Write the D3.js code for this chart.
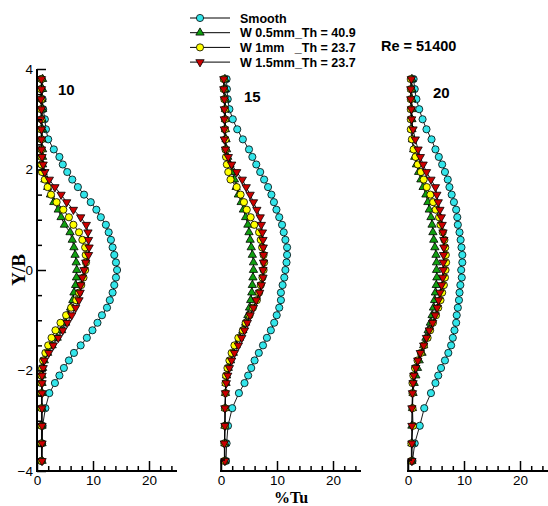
<!DOCTYPE html>
<html>
<head>
<meta charset="utf-8">
<script src="https://cdn.jsdelivr.net/npm/d3@7"></script>
<style>
  body { margin: 0; background: #fff; }
  svg { display: block; }
  .tick text { font-family: Arial, "Liberation Sans", sans-serif; font-size: 13.5px; fill: #000; }
</style>
</head>
<body>
<svg width="548" height="506"></svg>
<script>
// Y/B measuring positions, shared by every profile
var yPos = [3.8, 3.6, 3.4, 3.2, 3.0, 2.8, 2.6, 2.4,
  2.25, 2.1, 1.95, 1.8, 1.65, 1.5, 1.35, 1.2, 1.05, 0.9, 0.75, 0.6, 0.45, 0.3, 0.15, 0,
  -0.15, -0.3, -0.45, -0.6, -0.75, -0.9, -1.05, -1.2, -1.35, -1.5, -1.65, -1.8, -1.95, -2.1, -2.25,
  -2.45, -2.75, -3.1, -3.45, -3.8];

var stations = ['10', '15', '20'];
var seriesNames = ['Smooth', 'W 0.5mm_Th = 40.9', 'W 1mm   _Th = 23.7', 'W 1.5mm_Th = 23.7'];

// %Tu, station 10
var smooth10 = [0.8,0.8,1.0,1.1,1.4,1.6,2.0,3.0, 4.0,4.6,5.4,6.3,7.3,8.4,9.6,10.6,11.4,12.3,12.8,13.2,13.5,13.8,14.1,14.3,14.1,13.8,13.5,13.0,12.5,11.6,10.8,9.9,8.9,7.8,6.6,5.7,4.8,4.0,3.2, 2.2,1.5,1.0,0.9,0.8];
var w05_10 = [1.0,1.0,0.9,1.0,0.9,1.0,0.9,1.0, 1.0,1.0,1.1,1.4,1.9,2.4,3.0,3.8,4.3,4.9,5.9,6.3,6.6,6.8,7.0,7.1,7.05,6.9,6.6,6.4,6.0,5.5,5.1,4.4,3.6,2.7,1.9,1.3,1.0,0.9,0.9, 0.9,0.9,0.9,0.9,0.9];
var w1_10 = [0.8,0.7,0.8,0.7,0.8,0.7,0.8,0.8, 0.8,0.8,0.9,1.4,1.9,2.5,3.5,4.7,5.7,6.5,7.5,8.1,8.6,8.7,8.75,8.6,8.3,7.9,7.5,7.0,6.1,5.2,4.2,3.3,2.6,2.0,1.5,1.1,0.9,0.8,0.8, 0.8,0.8,0.8,0.8,0.8];
var w15_10 = [0.8,0.8,0.7,0.8,0.7,0.8,0.8,0.8, 0.9,1.1,1.4,2.2,3.2,4.3,5.3,6.5,7.8,8.8,9.1,9.2,9.3,9.2,8.7,8.4,8.1,7.8,7.7,7.5,6.9,6.2,5.4,4.6,3.8,2.9,2.1,1.3,1.1,0.9,0.9, 0.9,0.9,0.9,0.9,0.9];

// %Tu, station 15
var smooth15 = [1.0,1.05,1.2,1.5,2.1,2.9,3.9,5.0, 5.6,6.3,7.0,7.7,8.4,9.0,9.45,9.9,10.4,10.9,11.2,11.5,11.8,11.8,11.7,11.5,11.3,11.0,10.7,10.7,10.4,9.95,9.5,8.9,8.2,7.5,6.75,6.0,5.4,4.85,4.2, 3.2,2.0,1.25,1.0,0.9];
var w05_15 = [0.7,0.7,0.8,0.8,0.8,0.8,0.9,1.0, 1.2,1.6,2.0,2.4,2.7,3.1,3.6,4.0,4.4,4.8,5.0,5.2,5.4,5.6,5.8,5.8,5.7,5.6,5.5,5.3,5.1,4.8,4.4,3.9,3.3,2.7,2.2,1.7,1.3,1.0,0.9, 0.8,0.8,0.7,0.7,0.7];
var w1_15 = [0.5,0.5,0.6,0.7,0.7,0.7,0.8,0.8, 0.9,1.05,1.3,1.7,2.8,3.5,4.1,4.6,5.3,5.95,6.8,7.1,7.35,7.6,7.7,7.6,7.4,7.1,6.8,6.4,5.7,5.1,4.4,3.9,3.1,2.4,1.9,1.5,1.15,0.9,0.8, 0.8,0.7,0.7,0.6,0.6];
var w15_15 = [0.5,0.5,0.6,0.6,0.6,0.6,0.6,0.8, 1.3,1.9,2.8,3.8,4.5,5.2,5.8,6.4,7.0,7.2,7.4,7.5,7.55,7.6,7.6,7.5,7.5,7.2,6.9,6.3,5.8,5.2,4.7,4.2,3.7,3.1,2.4,1.9,1.5,1.2,0.95, 0.8,0.7,0.7,0.6,0.7];

// %Tu, station 20
var smooth20 = [1.0,1.2,1.5,2.0,2.6,3.3,4.2,4.9, 5.5,6.1,6.6,7.1,7.4,7.8,8.2,8.6,8.8,8.9,9.2,9.4,9.55,9.7,9.7,9.5,9.6,9.35,9.2,9.1,8.9,8.7,8.6,8.3,8.0,7.7,7.2,6.6,5.9,5.4,4.9, 4.1,2.9,2.1,1.2,0.8];
var w05_20 = [0.7,0.7,0.7,0.7,0.7,0.7,0.8,1.0, 1.2,1.5,1.9,2.3,2.7,3.2,3.55,3.8,4.1,4.3,4.45,4.6,4.8,5.0,5.1,5.1,5.15,5.05,4.9,4.75,4.55,4.3,4.0,3.6,3.2,2.8,2.5,2.0,1.7,1.4,1.1, 0.9,0.8,0.7,0.7,0.7];
var w1_20 = [0.5,0.5,0.5,0.5,0.5,0.5,0.7,1.0, 1.35,1.75,2.3,2.8,3.35,4.0,4.5,4.95,5.55,5.8,6.2,6.5,6.65,6.75,6.8,6.7,6.6,6.4,6.1,5.8,5.4,5.0,4.45,3.95,3.5,2.85,2.3,1.7,1.25,0.95,0.8, 0.8,0.8,0.9,0.6,0.6];
var w15_20 = [0.6,0.5,0.5,0.6,0.65,0.9,1.3,1.8, 2.2,2.7,3.3,4.1,4.9,5.15,5.4,5.7,5.95,6.1,6.25,6.4,6.4,6.35,6.3,6.3,6.2,6.0,5.7,5.45,5.2,4.85,4.4,3.8,3.3,2.8,2.2,1.75,1.4,1.05,0.9, 0.8,0.7,0.7,0.7,0.7];

var xMajor = [0, 10, 20];
var xMinor = [2, 4, 6, 8, 12, 14, 16, 18, 22, 24];
var yMajor = [-4, -2, 0, 2, 4];
var yMinor = [-3.5, -3, -2.5, -1.5, -1, -0.5, 0.5, 1, 1.5, 2.5, 3, 3.5];

var profiles = [
  [smooth10, w05_10, w1_10, w15_10],
  [smooth15, w05_15, w1_15, w15_15],
  [smooth20, w05_20, w1_20, w15_20]
];

var fills = ['#33e5ea', '#10a010', '#ffff00', '#cc0000'];
var shapes = ['circle', 'up', 'circle', 'down'];

var svg = d3.select('svg');
var left = [37, 221, 408];
var labelPos = [[58, 95], [244, 102], [433, 98]];

var y = d3.scaleLinear().domain([-4, 4]).range([471, 69]);

function marker(sel, shape, fill) {
  if (shape == 'circle') {
    sel.append('circle').attr('r', 3.6);
  } else {
    sel.append('path')
      .attr('d', d3.symbol().type(d3.symbolTriangle).size(30))
      .attr('transform', shape == 'down' ? 'rotate(180)' : null);
  }
  sel.selectAll('circle,path')
    .attr('fill', fill)
    .attr('stroke', '#000')
    .attr('stroke-width', 0.8);
}

profiles.forEach(function(series, p) {
  var x = d3.scaleLinear().domain([0, 25]).range([left[p], left[p] + 140]);
  var g = svg.append('g');

  // data lines first, then markers on top, series by series
  series.forEach(function(vals, s) {
    var pts = vals.map(function(v, i) { return [v, yPos[i]]; });
    var line = d3.line()
      .x(function(d) { return x(d[0]); })
      .y(function(d) { return y(d[1]); });
    g.append('path')
      .datum(pts)
      .attr('d', line)
      .attr('fill', 'none')
      .attr('stroke', '#000')
      .attr('stroke-width', 0.9);
    g.selectAll('.m' + s)
      .data(pts)
      .enter()
      .append('g')
      .attr('class', 'm' + s)
      .attr('transform', function(d) { return 'translate(' + x(d[0]) + ',' + y(d[1]) + ')'; })
      .each(function() { marker(d3.select(this), shapes[s], fills[s]); });
  });

  // x axis, ticks pointing up
  var ax = g.append('g').attr('transform', 'translate(0,' + y(-4) + ')');
  ax.call(d3.axisBottom(x).tickValues(xMajor).tickSizeInner(-10).tickSizeOuter(0).tickPadding(4));
  ax.append('g').call(d3.axisBottom(x).tickValues(xMinor).tickSizeInner(-5).tickSizeOuter(0).tickFormat(''));
  ax.selectAll('.domain').remove();
  ax.selectAll('line').attr('stroke', '#000').attr('stroke-width', 1.5);
  g.append('line')
    .attr('x1', x(0) - 1).attr('x2', x(25))
    .attr('y1', y(-4)).attr('y2', y(-4))
    .attr('stroke', '#000').attr('stroke-width', 2);

  if (p == 0) {
    var ay = g.append('g').attr('transform', 'translate(' + x(0) + ',0)');
    ay.call(d3.axisLeft(y).tickValues(yMajor).tickSizeInner(-9).tickSizeOuter(0).tickPadding(4));
    ay.append('g').call(d3.axisLeft(y).tickValues(yMinor).tickSizeInner(-5).tickSizeOuter(0).tickFormat(''));
    ay.selectAll('.domain').remove();
    ay.selectAll('line').attr('stroke', '#000').attr('stroke-width', 1.5);
    g.append('line')
      .attr('x1', x(0)).attr('x2', x(0))
      .attr('y1', y(4)).attr('y2', y(-4))
      .attr('stroke', '#000').attr('stroke-width', 2);
  } else {
    g.append('path')
      .attr('d', 'M' + (x(0) + 4) + ',' + y(-3.78) + 'H' + x(0) + 'V' + y(-4))
      .attr('fill', 'none')
      .attr('stroke', '#000').attr('stroke-width', 1.5);
  }

  svg.append('text')
    .attr('x', labelPos[p][0]).attr('y', labelPos[p][1])
    .attr('font-family', 'Arial, "Liberation Sans", sans-serif')
    .attr('font-weight', 'bold').attr('font-size', 15)
    .text(stations[p]);
});

// legend
var lg = svg.append('g');
seriesNames.forEach(function(name, s) {
  var ly = 18 + s * 14.7;
  lg.append('line')
    .attr('x1', 190).attr('x2', 230).attr('y1', ly).attr('y2', ly)
    .attr('stroke', '#000').attr('stroke-width', 1);
  var m = lg.append('g').attr('transform', 'translate(200,' + ly + ')');
  marker(m, shapes[s], fills[s]);
  lg.append('text')
    .attr('x', 240).attr('y', ly + 4.5)
    .attr('font-family', 'Arial, "Liberation Sans", sans-serif')
    .attr('font-weight', 'bold').attr('font-size', 12.5)
    .style('white-space', 'pre')
    .text(name);
});

svg.append('text')
  .attr('x', 381).attr('y', 51)
  .attr('font-family', 'Arial, "Liberation Sans", sans-serif')
  .attr('font-weight', 'bold').attr('font-size', 14.5)
  .text('Re = 51400');

svg.append('text')
  .attr('transform', 'translate(25,270) rotate(-90)')
  .attr('text-anchor', 'middle')
  .attr('font-family', '"Liberation Serif", "Times New Roman", serif')
  .attr('font-weight', 'bold').attr('font-size', 19)
  .text('Y/B');

svg.append('text')
  .attr('x', 291).attr('y', 502.5)
  .attr('text-anchor', 'middle')
  .attr('font-family', '"Liberation Serif", "Times New Roman", serif')
  .attr('font-weight', 'bold').attr('font-size', 16)
  .text('%Tu');
</script>
</body>
</html>
